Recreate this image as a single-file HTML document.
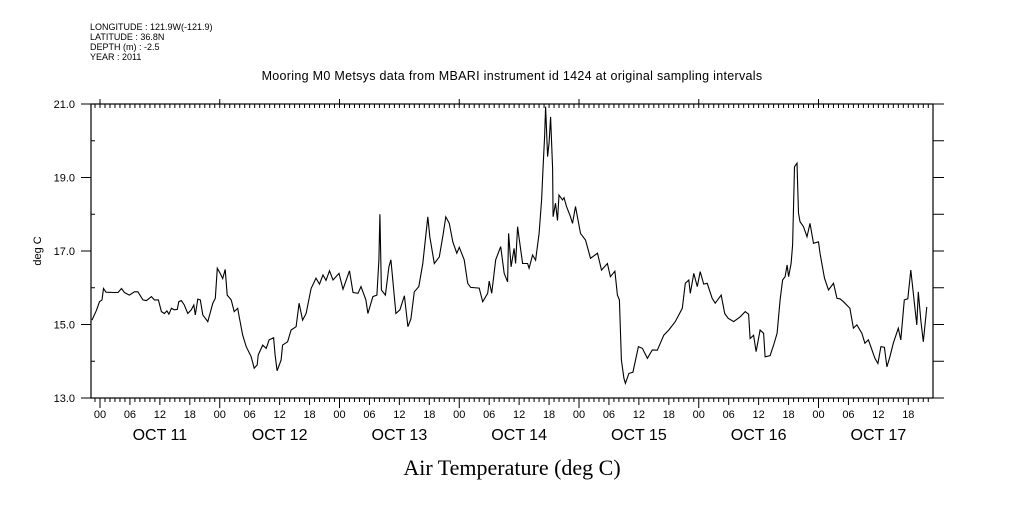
<!DOCTYPE html>
<html><head><meta charset="utf-8"><style>
body{margin:0;background:#fff;}
svg text{font-family:"Liberation Sans",sans-serif;fill:#000;}
</style></head><body>
<svg width="1009" height="504" viewBox="0 0 1009 504" xmlns="http://www.w3.org/2000/svg">
<g font-size="9">
<text x="90" y="30">LONGITUDE : 121.9W(-121.9)</text>
<text x="90" y="40">LATITUDE : 36.8N</text>
<text x="90" y="50">DEPTH (m) : -2.5</text>
<text x="90" y="60">YEAR : 2011</text>
</g>
<text x="512" y="80" font-size="12.5" text-anchor="middle" letter-spacing="0.3">Mooring M0 Metsys data from MBARI instrument id 1424 at original sampling intervals</text>
<text x="512" y="475" font-size="22" text-anchor="middle" style="font-family:'Liberation Serif',serif">Air Temperature (deg C)</text>
<text transform="translate(41,251) rotate(-90)" font-size="11" text-anchor="middle">deg C</text>
<rect x="91" y="104" width="842" height="294" fill="none" stroke="#000" stroke-width="1.2"/>
<g id="axes"></g>
<path id="series" fill="none" stroke="#000" stroke-width="1.1"/>
</svg>
<script>
const hours=[-1.6,-0.7,-0.1,0.4,0.7,1.2,2.9,3.6,4.3,4.9,5.9,6.9,7.6,8.6,9.3,10.3,10.9,11.7,12.3,12.9,13.4,13.8,14.3,14.9,15.5,15.8,16.3,16.9,17.6,18.3,18.8,19.1,19.6,20.1,20.6,21.6,22.6,23.1,23.5,24.1,24.6,25.1,25.5,26.3,26.9,27.6,27.9,28.6,29.3,30.3,30.9,31.5,31.7,32.6,33.3,33.9,34.8,35.1,35.5,36.3,36.6,37.6,38.3,39.3,39.9,40.6,41.3,42.3,43.3,44.0,44.7,45.3,46.0,46.7,47.9,48.7,50.0,50.7,51.7,52.3,53.3,53.7,54.7,55.5,55.9,56.1,56.4,57.2,57.9,58.3,59.3,60.1,61.0,61.7,62.3,63.0,63.9,64.7,65.7,66.1,67.0,68.0,68.8,69.3,70.0,70.7,71.5,72.0,73.0,73.7,74.3,76.0,76.7,77.7,78.0,78.5,79.3,79.8,80.3,81.0,81.7,81.9,82.4,83.0,83.3,83.7,84.0,84.7,85.7,86.0,86.7,87.3,88.0,88.5,88.8,89.1,89.3,89.7,90.0,90.3,90.7,90.8,91.3,91.7,92.0,92.7,93.0,93.5,94.3,94.7,95.3,96.3,97.3,98.3,99.7,100.5,101.7,102.3,103.2,103.7,104.1,104.5,105.0,105.3,106.0,106.8,107.9,108.7,109.7,110.7,111.7,113.0,114.0,115.3,116.7,117.3,118.0,118.3,119.0,119.7,120.3,121.0,121.7,122.7,123.3,124.5,125.2,125.9,127.0,128.3,129.3,130.0,130.3,131.0,131.5,132.3,133.0,133.3,134.3,135.0,135.7,136.3,136.8,137.3,137.7,138.0,138.5,138.8,139.2,139.7,140.0,140.3,141.0,141.7,142.3,143.0,144.0,144.3,145.2,146.0,147.0,147.7,148.3,149.0,150.3,151.0,151.7,152.7,153.3,154.0,155.3,155.9,156.5,157.2,157.7,158.3,159.0,160.0,160.5,161.2,161.9,162.5,163.3,163.7,164.0,164.5,165.0,165.7];
const temps=[15.12,15.39,15.62,15.67,15.98,15.88,15.87,15.87,15.98,15.87,15.80,15.89,15.89,15.67,15.65,15.76,15.67,15.67,15.35,15.30,15.37,15.28,15.44,15.40,15.41,15.62,15.65,15.53,15.30,15.40,15.53,15.26,15.69,15.67,15.26,15.08,15.58,15.71,16.53,16.39,16.25,16.50,15.80,15.67,15.35,15.44,15.21,14.71,14.40,14.12,13.81,13.90,14.17,14.44,14.35,14.58,14.64,14.17,13.74,14.03,14.44,14.53,14.85,14.94,15.58,15.12,15.30,15.98,16.26,16.10,16.35,16.20,16.46,16.21,16.39,15.96,16.46,15.87,15.85,16.03,15.67,15.30,15.76,15.80,16.76,18.00,15.94,15.80,16.57,16.76,15.30,15.40,15.78,14.94,15.15,15.89,16.03,16.66,17.93,17.39,16.66,16.84,17.48,17.93,17.75,17.25,16.94,17.10,16.76,16.12,16.01,15.99,15.62,15.85,16.18,15.85,16.76,16.94,17.12,16.39,16.16,17.48,16.57,17.07,16.66,17.66,17.35,16.66,16.66,16.53,16.89,16.75,17.48,18.39,19.29,20.11,20.93,19.57,19.95,20.65,19.25,17.93,18.30,17.83,18.52,18.39,18.45,18.21,17.93,17.75,18.21,17.48,17.30,16.80,16.94,16.48,16.66,16.30,16.45,15.80,15.67,14.03,13.54,13.40,13.67,13.70,14.40,14.35,14.08,14.31,14.30,14.71,14.85,15.08,15.44,16.12,16.21,15.85,16.39,16.03,16.44,16.10,16.12,15.71,15.58,15.80,15.30,15.17,15.08,15.21,15.35,15.28,14.62,14.71,14.26,14.85,14.76,14.12,14.15,14.44,14.76,15.67,16.21,16.30,16.62,16.30,16.66,17.16,19.29,19.39,18.03,17.80,17.66,17.39,17.75,17.21,17.25,16.94,16.26,15.94,16.12,15.71,15.70,15.62,15.44,14.90,14.99,14.76,14.49,14.58,14.08,13.94,14.40,14.38,13.85,14.12,14.49,14.90,14.58,15.67,15.70,16.48,15.48,14.99,15.89,15.12,14.53,15.48];
const yTicks=[13,15,17,19,21];
const yTickLabels=["13.0","15.0","17.0","19.0","21.0"];
const dayLabels=["OCT 11","OCT 12","OCT 13","OCT 14","OCT 15","OCT 16","OCT 17"];
const hourLabels=["00","06","12","18"];

const X0=100, PXH=119.75/24, L=91, R=933, T=104, B=398, YMIN=13, YMAX=21;
const xs=h=>X0+h*PXH;
const ys=v=>B-(v-YMIN)/(YMAX-YMIN)*(B-T);
const NS="http://www.w3.org/2000/svg";
const ax=document.getElementById('axes');
function ln(x1,y1,x2,y2,name){const e=document.createElementNS(NS,'line');e.setAttribute('x1',x1);e.setAttribute('y1',y1);e.setAttribute('x2',x2);e.setAttribute('y2',y2);e.setAttribute('stroke','#000');e.setAttribute('stroke-width','1');


ax.appendChild(e);}
function tx(x,y,s,size,anchor,name){const e=document.createElementNS(NS,'text');e.setAttribute('x',x);e.setAttribute('y',y);e.setAttribute('font-size',size);e.setAttribute('text-anchor',anchor);e.textContent=s;


ax.appendChild(e);}
// y ticks
for(let v=YMIN;v<=YMAX;v++){const y=ys(v);
 if(v%2===1){ln(81,y,L,y,'y-tick-major');}else{ln(L,y,L+4,y,'y-tick-minor');}
 ln(R,y,R+11,y,'y-tick-right');}
yTicks.forEach((v,i)=>tx(75,ys(v)+4,yTickLabels[i],11,'end','y-tick-label'));
// x ticks
const hStart=Math.ceil((L-X0)/PXH), hEnd=Math.floor((R-X0)/PXH);
for(let h=hStart;h<=hEnd;h++){const x=xs(h);
 const m=((h%24)+24)%24;
 if(m===0){ln(x,B,x,B+10,'x-tick-day');ln(x,T-5,x,T+4,'x-tick-top-day');}
 else if(m%6===0){ln(x,B,x,B+7,'x-tick-6h');ln(x,T,x,T+4,'x-tick-top');}
 else {ln(x,B,x,B+4,'x-tick-hour');ln(x,T,x,T+4,'x-tick-top');}
 if(m%6===0) tx(x,B+20,hourLabels[m/6],11,'middle','x-hour-label');
}
dayLabels.forEach((d,i)=>tx(xs(i*24+12),B+42,d,16,'middle','x-day-label'));
// series
let d='';hours.forEach((h,i)=>{d+=(i?'L':'M')+xs(h).toFixed(1)+' '+ys(temps[i]).toFixed(1);});
document.getElementById('series').setAttribute('d',d);
</script>
</body></html>
